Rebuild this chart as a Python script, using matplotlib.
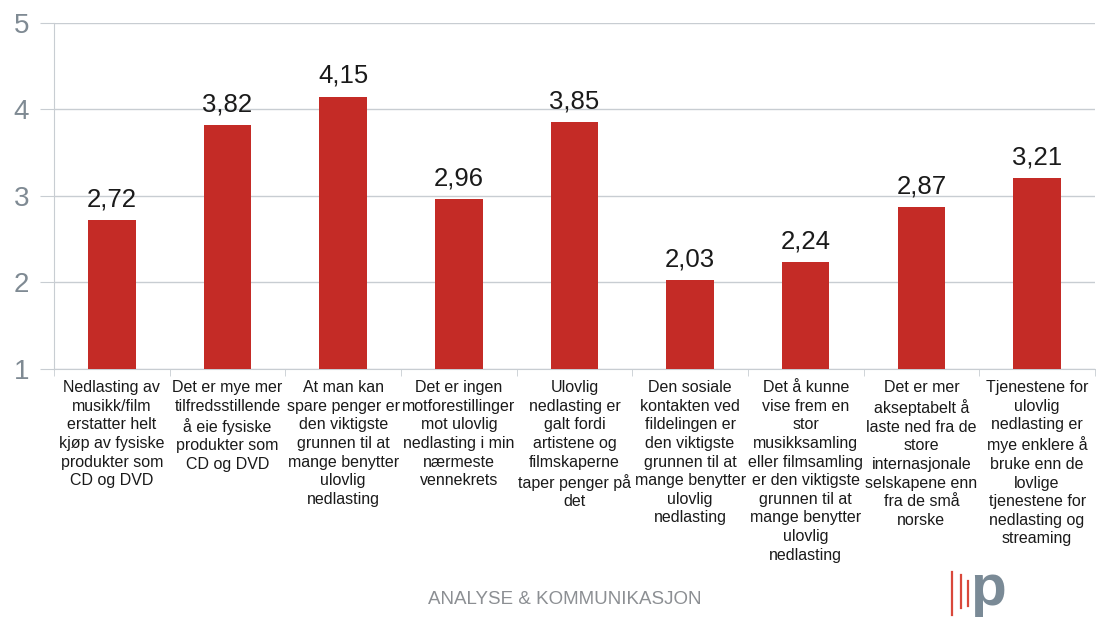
import matplotlib.pyplot as plt
from matplotlib.lines import Line2D

plt.rcParams['font.family'] = ['Liberation Sans', 'DejaVu Sans']

# DATA
categories = [
    "Nedlasting av\nmusikk/film\nerstatter helt\nkjøp av fysiske\nprodukter som\nCD og DVD",
    "Det er mye mer\ntilfredsstillende\nå eie fysiske\nprodukter som\nCD og DVD",
    "At man kan\nspare penger er\nden viktigste\ngrunnen til at\nmange benytter\nulovlig\nnedlasting",
    "Det er ingen\nmotforestillinger\nmot ulovlig\nnedlasting i min\nnærmeste\nvennekrets",
    "Ulovlig\nnedlasting er\ngalt fordi\nartistene og\nfilmskaperne\ntaper penger på\ndet",
    "Den sosiale\nkontakten ved\nfildelingen er\nden viktigste\ngrunnen til at\nmange benytter\nulovlig\nnedlasting",
    "Det å kunne\nvise frem en\nstor\nmusikksamling\neller filmsamling\ner den viktigste\ngrunnen til at\nmange benytter\nulovlig\nnedlasting",
    "Det er mer\nakseptabelt å\nlaste ned fra de\nstore\ninternasjonale\nselskapene enn\nfra de små\nnorske",
    "Tjenestene for\nulovlig\nnedlasting er\nmye enklere å\nbruke enn de\nlovlige\ntjenestene for\nnedlasting og\nstreaming",
]
values = [2.72, 3.82, 4.15, 2.96, 3.85, 2.03, 2.24, 2.87, 3.21]
yticks = [1, 2, 3, 4, 5]

BAR = '#C42B26'
GRID = '#C8CDD2'
TICK = '#7F8A93'

fig = plt.figure(figsize=(10.96, 6.21), dpi=100)
ax = fig.add_axes([0.0493, 0.4058, 0.9497, 0.5572])

x = range(len(values))
ax.bar(x, values, width=0.41, color=BAR, bottom=0, zorder=3)
ax.set_ylim(1, 5)
ax.set_xlim(-0.5, len(values) - 0.5)

for i, v in enumerate(values):
    ax.text(i, v + 0.1, f"{v:.2f}".replace('.', ','), ha='center', va='bottom',
            fontsize=18.5, color='#1a1a1a', zorder=4)

ax.set_yticks(yticks)
ax.set_yticklabels([str(t) for t in yticks], fontsize=20, color=TICK)
ax.yaxis.grid(True, color=GRID, linewidth=1, zorder=0)
ax.tick_params(axis='y', length=10, color=GRID, pad=8)

ax.set_xticks([i - 0.5 for i in range(len(values) + 1)], minor=True)
ax.set_xticks(list(x))
ax.set_xticklabels(categories, fontsize=11.5, color='#1a1a1a', linespacing=1.3, va='top')
ax.tick_params(axis='x', which='major', length=0, pad=8)
ax.tick_params(axis='x', which='minor', length=5, color=GRID)

for side in ['top', 'right']:
    ax.spines[side].set_visible(False)
ax.spines['left'].set_color(GRID)
ax.spines['bottom'].set_color(GRID)

# footer
fig.text(0.515, 0.034, "ANALYSE & KOMMUNIKASJON", ha='center', va='center',
         fontsize=13.5, color='#8C8F93', fontfamily='Liberation Sans')

for lx, y0, y1 in [(0.8686, 0.01, 0.079), (0.8768, 0.021, 0.074), (0.8832, 0.024, 0.065)]:
    fig.add_artist(Line2D([lx, lx], [y0, y1], color='#D9483B', linewidth=1.6))
fig.text(0.885, 0.05, "p", ha='left', va='center', fontsize=42,
         color='#7A8A96', fontfamily='Liberation Sans', fontweight='bold')

fig.savefig('out.png', dpi=100)
